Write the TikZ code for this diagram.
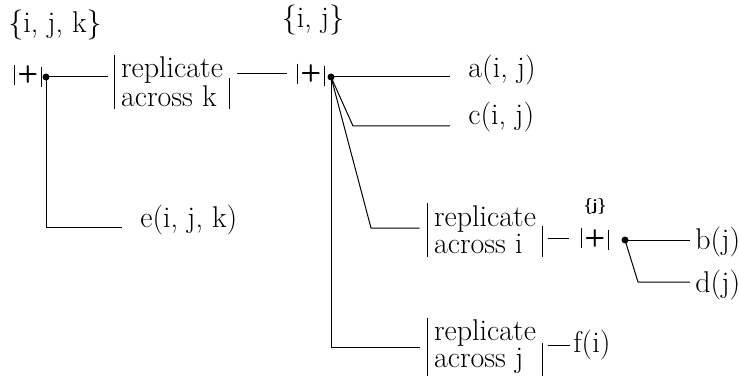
\documentclass[tikz,border=0pt]{standalone}
\usepackage{tikz}
\usetikzlibrary{positioning}

\begin{document}
\begin{tikzpicture}[
            x=0.5pt, y=-0.5pt,
            every node/.style={inner sep=0pt, font=\fontsize{15}{12.5}\selectfont},
            barred/.style={inner xsep=3pt, inner ysep=1pt, align=left,
                append after command={(\tikzlastnode.north west) edge (\tikzlastnode.south west)
                                      ([yshift=2pt]\tikzlastnode.east) edge (\tikzlastnode.south east)}},
            plus/.style={inner xsep=1.5pt, minimum height=10pt, font=\sffamily\bfseries\fontsize{12}{12}\selectfont,
                append after command={(\tikzlastnode.north west) edge (\tikzlastnode.south west)
                                      ([yshift=-1pt]\tikzlastnode.north east) edge ([yshift=-1pt]\tikzlastnode.south east)}},
            dot/.style={circle, fill, minimum size=3.5pt},
            set/.style={font=\sffamily\bfseries\footnotesize},
            line/.style={line width=0.5pt}
        ]
            \useasboundingbox (0,0) rectangle (739,385);

            % Sums with their index sets
            \node[plus] (p1) at (28,75) {+};
            \node[dot] (d1) at (46,77) {};
            \node (s1) at (55,25) {\{i, j, k\}};
            \node[plus] (p2) at (311,74) {+};
            \node[dot] (d2) at (331,77) {};
            \node (s2) at (313,20) {\{i, j\}};
            \node[plus] (p3) at (595,238) {+};
            \node[dot] (d3) at (625,240) {};
            \node[set] (s3) at (595,206) {\{j\}};

            % Replications
            \node[barred] (rk) at (172,82) {replicate\\across k};
            \node[barred] (ri) at (485,230) {replicate\\across i};
            \node[barred] (rj) at (485,347) {replicate\\across j};

            % Leaves
            \node[anchor=west] (e) at (140,220) {e(i, j, k)};
            \node[anchor=west] (a) at (468,70) {a(i, j)};
            \node[anchor=west] (c) at (468,117) {c(i, j)};
            \node[anchor=west] (b) at (695,242) {b(j)};
            \node[anchor=west] (d) at (695,285) {d(j)};
            \node[anchor=west] (f) at (573,345) {f(i)};

            % Bends
            \coordinate (bc) at (353,126);
            \coordinate (bi) at (371,228);
            \coordinate (be) at (46,227);
            \coordinate (bd) at (638,282);

            % Edges
            \draw[line, shorten >=3.5pt] (d1.center) -- (d1 -| rk.west);
            \draw[line, shorten >=9pt] (d1.center) -- (be) -- (be -| e.west);
            \draw[line, shorten <=4pt, shorten >=5pt] (rk.east |- p2) -- (p2.west);
            \draw[line, shorten >=9pt] (d2.center) -- (d2 -| a.west);
            \draw[line, shorten >=9pt] (d2.center) -- (bc) -- (bc -| c.west);
            \draw[line, shorten >=4pt] (d2.center) -- (bi) -- (bi -| ri.west);
            \draw[line, shorten >=4pt] (d2.center) |- (rj.west);
            \draw[line, shorten <=3pt, shorten >=6pt] (ri.east |- p3.west) -- (p3.west);
            \draw[line, shorten >=2.5pt] (d3.center) -- (d3 -| b.west);
            \draw[line, shorten >=2.5pt] (d3.center) -- (bd) -- (bd -| d.west);
            \draw[line, shorten <=3pt, shorten >=1.5pt] (rj.east |- f.west) -- (f.west);
        \end{tikzpicture}
\end{document}
